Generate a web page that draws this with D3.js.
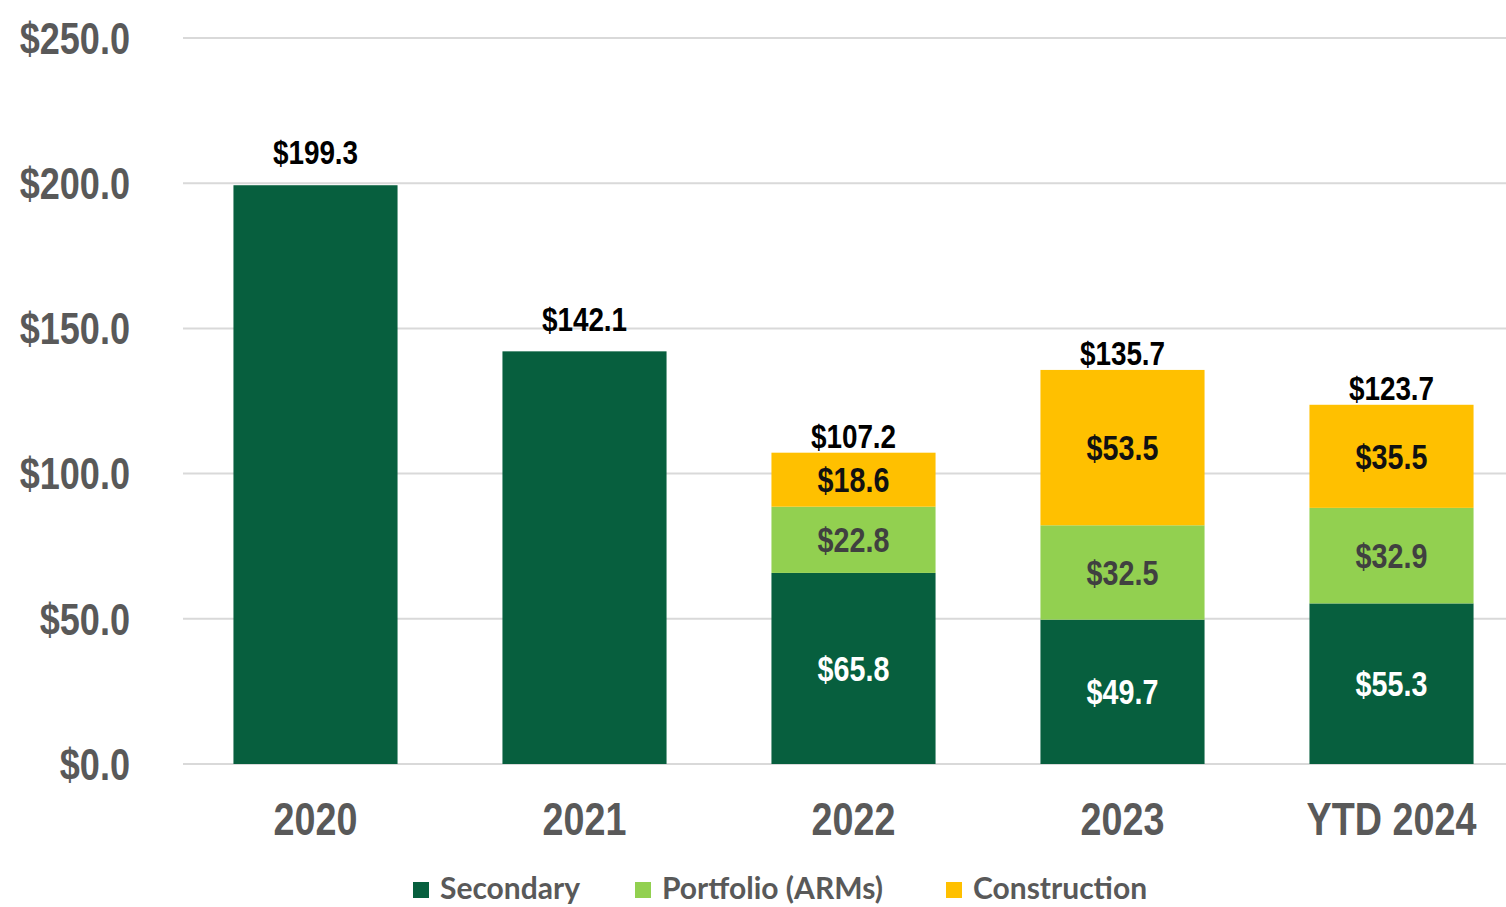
<!DOCTYPE html>
<head>
  <meta charset="utf-8" />
  <script src="https://d3js.org/d3.v7.min.js"></script>
  <style>
    body { margin: 0; background: #fff; }
    .narrow { font-family: "Liberation Sans", Arial, sans-serif; font-weight: bold; }
  </style>
</head>
<body>
  <script>
    var years = ["2020", "2021", "2022", "2023", "YTD 2024"];
    var seriesNames = ["Secondary", "Portfolio (ARMs)", "Construction"];
    var secondary = [199.3, 142.1, 65.8, 49.7, 55.3];
    var portfolio = [0, 0, 22.8, 32.5, 32.9];
    var construction = [0, 0, 18.6, 53.5, 35.5];
    var totals = [199.3, 142.1, 107.2, 135.7, 123.7];
    var yTicks = [0, 50, 100, 150, 200, 250];

    var colors = ["#075f3e", "#92d050", "#ffc000"];
    var labelColors = ["#ffffff", "#404040", "#111111"];

    var width = 1506, height = 907;
    var squeeze = 0.82; // fake "Arial Narrow"
    var svg = d3.select("body").append("svg")
      .attr("width", width).attr("height", height);

    var x = d3.scaleBand().domain(years).range([181, 1526])
      .paddingInner(0.39).paddingOuter(0.195);
    var y = d3.scaleLinear().domain([0, 250]).range([764, 38]);

    function at(px, py) {
      return "translate(" + px + "," + py + ") scale(" + squeeze + ",1)";
    }

    // grid
    svg.append("g").selectAll("line").data(yTicks).join("line")
      .attr("x1", 183).attr("x2", width)
      .attr("y1", d => y(d)).attr("y2", d => y(d))
      .attr("stroke", "#d9d9d9").attr("stroke-width", 2);

    // y labels
    svg.append("g").selectAll("text").data(yTicks).join("text")
      .attr("class", "narrow")
      .attr("transform", d => at(130, y(d)))
      .attr("dy", "0.36em")
      .attr("text-anchor", "end")
      .attr("font-size", 44)
      .attr("fill", "#595959")
      .text(d => "$" + d.toFixed(1));

    // stacked data
    var rows = years.map((yr, i) => ({ year: yr, s0: secondary[i], s1: portfolio[i], s2: construction[i] }));
    var stack = d3.stack().keys(["s0", "s1", "s2"])(rows);

    var layers = svg.append("g").selectAll("g").data(stack).join("g")
      .attr("fill", (d, i) => colors[i]);

    layers.selectAll("rect").data(d => d).join("rect")
      .attr("x", d => x(d.data.year))
      .attr("width", x.bandwidth())
      .attr("y", d => y(d[1]))
      .attr("height", d => y(d[0]) - y(d[1]));

    // segment labels (only on stacked bars)
    stack.forEach(function (layer, li) {
      svg.append("g").selectAll("text")
        .data(layer.filter(d => d.data.s1 > 0))
        .join("text")
        .attr("class", "narrow")
        .attr("transform", d => at(x(d.data.year) + x.bandwidth() / 2, y((d[0] + d[1]) / 2)))
        .attr("dy", "0.36em")
        .attr("text-anchor", "middle")
        .attr("font-size", 35)
        .attr("fill", labelColors[li])
        .text(d => "$" + (d[1] - d[0]).toFixed(1));
    });

    // totals
    svg.append("g").selectAll("text").data(years).join("text")
      .attr("class", "narrow")
      .attr("transform", (d, i) => at(x(d) + x.bandwidth() / 2, y(totals[i]) - (portfolio[i] > 0 ? 17 : 33)))
      .attr("dy", "0.36em")
      .attr("text-anchor", "middle")
      .attr("font-size", 34)
      .attr("fill", "#000")
      .text((d, i) => "$" + totals[i].toFixed(1));

    // x labels
    svg.append("g").selectAll("text").data(years).join("text")
      .attr("class", "narrow")
      .attr("transform", d => at(x(d) + x.bandwidth() / 2, 818))
      .attr("dy", "0.36em")
      .attr("text-anchor", "middle")
      .attr("font-size", 46)
      .attr("fill", "#595959")
      .text(d => d);

    // legend
    var legendX = [413, 635, 946];
    var lg = svg.append("g").selectAll("g").data(seriesNames).join("g")
      .attr("transform", (d, i) => "translate(" + legendX[i] + ",888)");
    lg.append("rect").attr("x", 0).attr("y", -6).attr("width", 16).attr("height", 16)
      .attr("fill", (d, i) => colors[i]);
    lg.append("text")
      .attr("x", 27).attr("dy", "0.36em")
      .attr("font-family", "Lato, 'Open Sans', sans-serif")
      .attr("font-weight", "bold")
      .attr("font-size", 30)
      .attr("fill", "#595959")
      .text(d => d);
  </script>
</body>
